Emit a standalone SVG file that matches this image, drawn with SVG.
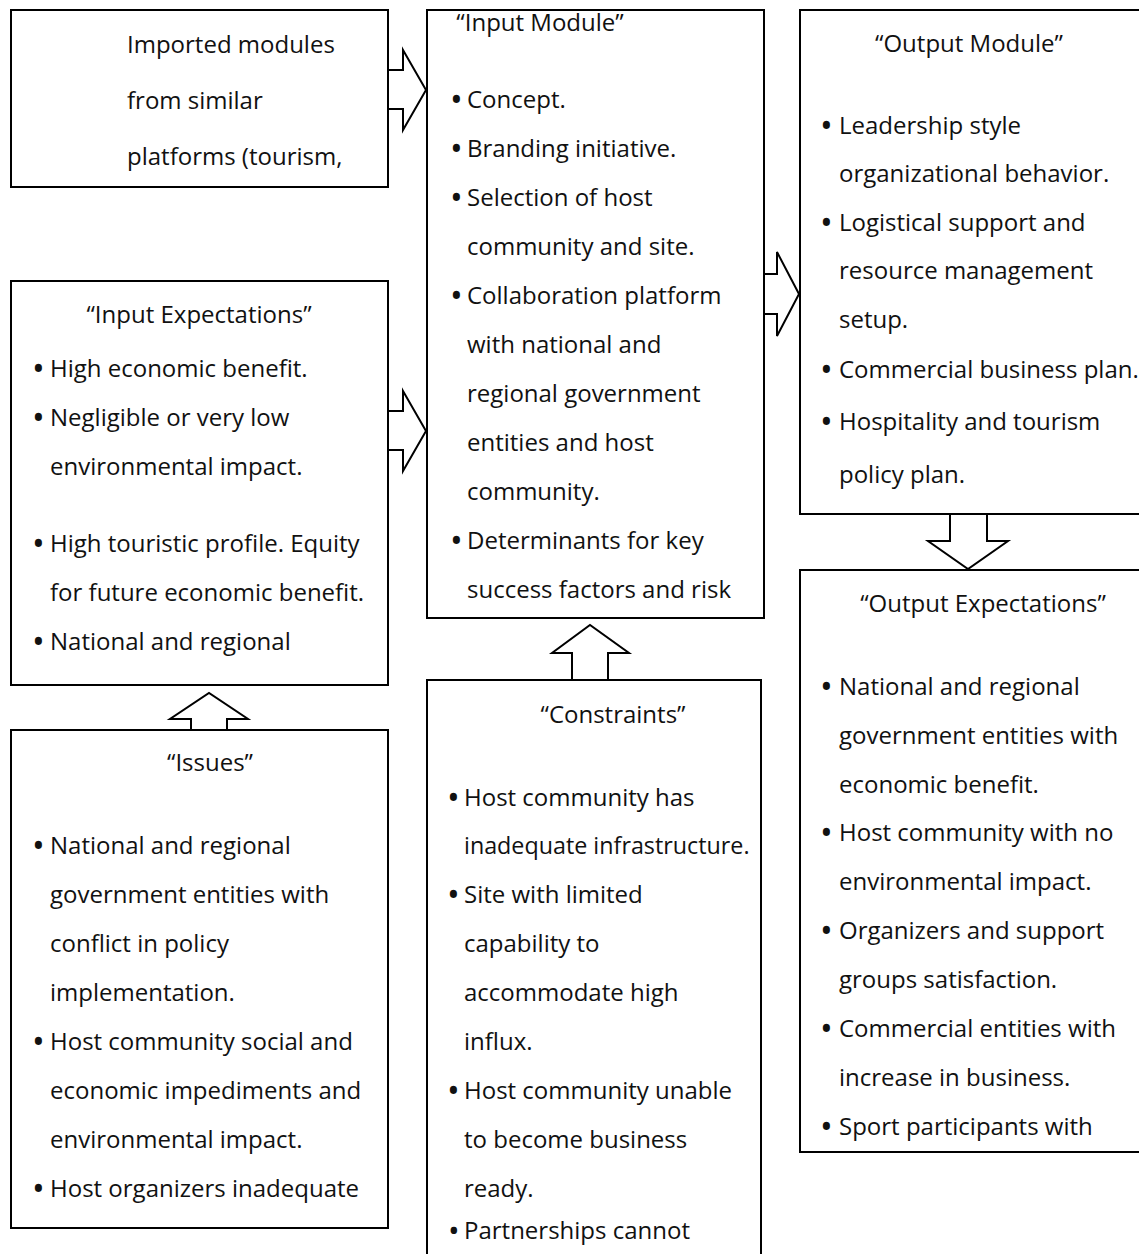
<svg xmlns="http://www.w3.org/2000/svg" width="1139" height="1254" viewBox="0 0 1139 1254">
<style>
.box{fill:#fff;stroke:#000;stroke-width:2}
.arr{fill:#fff;stroke:#000;stroke-width:2;stroke-linejoin:miter}
text{font-family:"Open Sans","Noto Sans","DejaVu Sans",sans-serif;font-size:24px;fill:#111}
.t{text-anchor:middle}
.b{font-size:34px;baseline-shift:-4px}
.bs{font-size:31px;baseline-shift:-3px}
</style>
<rect x="0" y="0" width="1139" height="1254" fill="#fff"/>
<g id="node-imported">
<rect class="box" x="11" y="10" width="377" height="177"/>
<text x="127" y="53">Imported modules</text>
<text x="127" y="109">from similar</text>
<text x="127" y="165">platforms (tourism,</text>
</g>
<g id="node-input-module">
<rect class="box" x="427" y="10" width="337" height="608"/>
<text class="t" x="540" y="31">“Input Module”</text>
<text y="108"><tspan class="b" x="450">•</tspan><tspan x="467">Concept.</tspan></text>
<text y="157"><tspan class="b" x="450">•</tspan><tspan x="467">Branding initiative.</tspan></text>
<text y="206"><tspan class="b" x="450">•</tspan><tspan x="467">Selection of host</tspan></text>
<text x="467" y="255">community and site.</text>
<text y="304"><tspan class="b" x="450">•</tspan><tspan x="467">Collaboration platform</tspan></text>
<text x="467" y="353">with national and</text>
<text x="467" y="402">regional government</text>
<text x="467" y="451">entities and host</text>
<text x="467" y="500">community.</text>
<text y="549"><tspan class="b" x="450">•</tspan><tspan x="467">Determinants for key</tspan></text>
<text x="467" y="598">success factors and risk</text>
</g>
<g id="node-output-module">
<rect class="box" x="800" y="10" width="341" height="504"/>
<text class="t" x="969" y="52">“Output Module”</text>
<text y="134"><tspan class="b" x="820">•</tspan><tspan x="839">Leadership style</tspan></text>
<text x="839" y="182">organizational behavior.</text>
<text y="231"><tspan class="b" x="820">•</tspan><tspan x="839">Logistical support and</tspan></text>
<text x="839" y="279">resource management</text>
<text x="839" y="328">setup.</text>
<text y="378"><tspan class="b" x="820">•</tspan><tspan x="839">Commercial business plan.</tspan></text>
<text y="430"><tspan class="b" x="820">•</tspan><tspan x="839">Hospitality and tourism</tspan></text>
<text x="839" y="483">policy plan.</text>
</g>
<g id="node-input-expectations">
<rect class="box" x="11" y="281" width="377" height="404"/>
<text class="t" x="199" y="323">“Input Expectations”</text>
<text y="377"><tspan class="b" x="32">•</tspan><tspan x="50">High economic benefit.</tspan></text>
<text y="426"><tspan class="b" x="32">•</tspan><tspan x="50">Negligible or very low</tspan></text>
<text x="50" y="475">environmental impact.</text>
<text y="552"><tspan class="b" x="32">•</tspan><tspan x="50">High touristic profile. Equity</tspan></text>
<text x="50" y="601">for future economic benefit.</text>
<text y="650"><tspan class="b" x="32">•</tspan><tspan x="50">National and regional</tspan></text>
</g>
<g id="node-output-expectations">
<rect class="box" x="800" y="570" width="341" height="582"/>
<text class="t" x="983" y="612">“Output Expectations”</text>
<text y="695"><tspan class="b" x="820">•</tspan><tspan x="839">National and regional</tspan></text>
<text x="839" y="744">government entities with</text>
<text x="839" y="793">economic benefit.</text>
<text y="841"><tspan class="b" x="820">•</tspan><tspan x="839">Host community with no</tspan></text>
<text x="839" y="890">environmental impact.</text>
<text y="939"><tspan class="b" x="820">•</tspan><tspan x="839">Organizers and support</tspan></text>
<text x="839" y="988">groups satisfaction.</text>
<text y="1037"><tspan class="b" x="820">•</tspan><tspan x="839">Commercial entities with</tspan></text>
<text x="839" y="1086">increase in business.</text>
<text y="1135"><tspan class="b" x="820">•</tspan><tspan x="839">Sport participants with</tspan></text>
</g>
<g id="node-issues">
<rect class="box" x="11" y="730" width="377" height="498"/>
<text class="t" x="210" y="771">“Issues”</text>
<text y="854"><tspan class="b" x="32">•</tspan><tspan x="50">National and regional</tspan></text>
<text x="50" y="903">government entities with</text>
<text x="50" y="952">conflict in policy</text>
<text x="50" y="1001">implementation.</text>
<text y="1050"><tspan class="b" x="32">•</tspan><tspan x="50">Host community social and</tspan></text>
<text x="50" y="1099">economic impediments and</text>
<text x="50" y="1148">environmental impact.</text>
<text y="1197"><tspan class="b" x="32">•</tspan><tspan x="50">Host organizers inadequate</tspan></text>
</g>
<g id="node-constraints">
<rect class="box" x="427" y="680" width="334" height="600"/>
<text class="t" x="613" y="723">“Constraints”</text>
<text y="806"><tspan class="b" x="447">•</tspan><tspan x="464">Host community has</tspan></text>
<text x="464" y="854" style="font-size:23.3px">inadequate infrastructure.</text>
<text y="903"><tspan class="b" x="447">•</tspan><tspan x="464">Site with limited</tspan></text>
<text x="464" y="952">capability to</text>
<text x="464" y="1001">accommodate high</text>
<text x="464" y="1050">influx.</text>
<text y="1099"><tspan class="b" x="447">•</tspan><tspan x="464">Host community unable</tspan></text>
<text x="464" y="1148">to become business</text>
<text x="464" y="1197">ready.</text>
<text y="1239"><tspan class="bs" x="448">•</tspan><tspan x="464">Partnerships cannot</tspan></text>
</g>
<g id="connectors">
<polygon class="arr" points="388,70 403,70 403,50 426,90 403,130 403,109 388,109"/>
<polygon class="arr" points="388,411 403,411 403,391 426,431 403,471 403,450 388,450"/>
<polygon class="arr" points="764,274 777,274 777,252 799,294 777,336 777,314 764,314"/>
<polygon class="arr" points="950,514 950,541 928,541 968,569 1008,541 987,541 987,514"/>
<polygon class="arr" points="191,730 191,719 170,719 209,693 248,719 227,719 227,730"/>
<polygon class="arr" points="572,680 572,653 552,653 590,625 629,653 608,653 608,680"/>
</g>
</svg>
